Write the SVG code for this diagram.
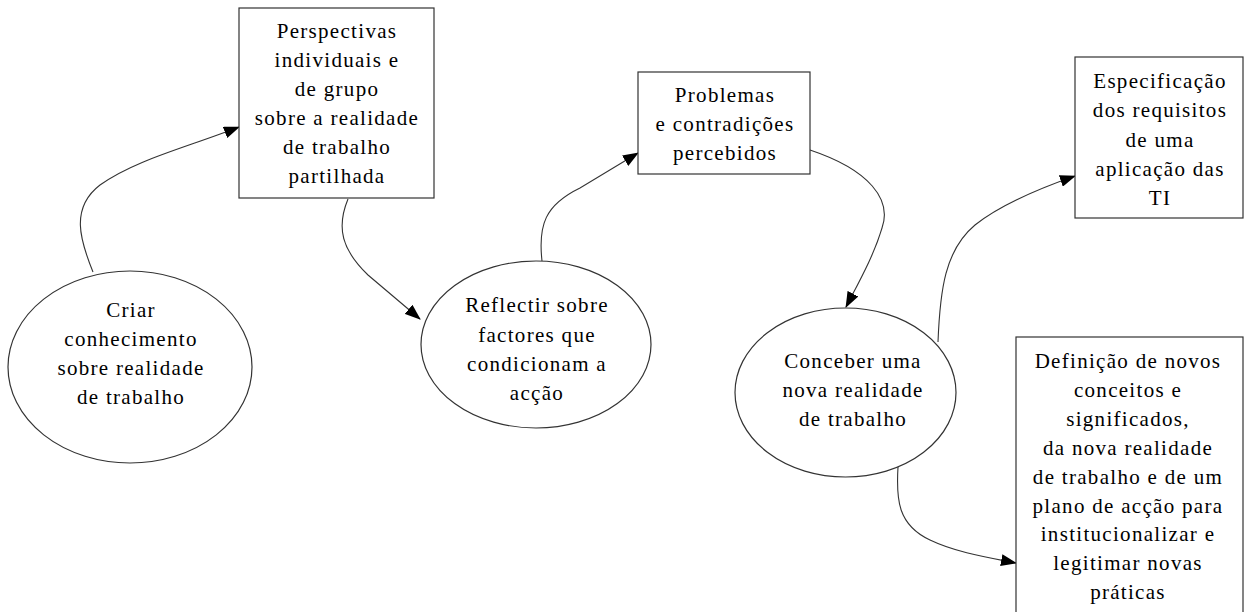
<svg xmlns="http://www.w3.org/2000/svg" width="1245" height="612" viewBox="0 0 1245 612">
<style>
  .shape { fill: #ffffff; stroke: #333333; stroke-width: 1.2; }
  .lbl { font-family: "Liberation Serif", "Times New Roman", serif; font-size: 21px; letter-spacing: 1.3px; fill: #000000; text-anchor: middle; }
  .conn { fill: none; stroke: #333333; stroke-width: 1.1; marker-end: url(#arrow); }
</style>
<defs>
  <marker id="arrow" viewBox="0 0 16 12" refX="15" refY="6" markerWidth="16" markerHeight="12" markerUnits="userSpaceOnUse" orient="auto">
    <path d="M0,0 L16,6 L0,12 Z" fill="#000000"/>
  </marker>
</defs>
<rect width="1245" height="612" fill="#ffffff"/>

<g id="connectors">
  <path class="conn" d="M93,272 C80,240 70,208 100,185 C135,160 185,148 239,127"/>
  <path class="conn" d="M348,199 C336,228 342,250 368,275 L420,319"/>
  <path class="conn" d="M542,261 C538,225 545,205 580,188 L638,153"/>
  <path class="conn" d="M810,150 C870,170 892,200 882,228 C874,255 860,280 846,307"/>
  <path class="conn" d="M938,342 C940,290 945,250 975,225 C1000,205 1035,190 1075,176"/>
  <path class="conn" d="M898,467 C896,500 898,525 930,540 C955,552 985,557 1016,563"/>
</g>

<g id="node-criar">
  <ellipse class="shape" cx="130" cy="367" rx="122" ry="96"/>
  <text class="lbl" x="131" y="317">Criar</text>
  <text class="lbl" x="131" y="346">conhecimento</text>
  <text class="lbl" x="131" y="375">sobre realidade</text>
  <text class="lbl" x="131" y="404">de trabalho</text>
</g>

<g id="node-perspectivas">
  <rect class="shape" x="239" y="8" width="195" height="190"/>
  <text class="lbl" x="337" y="38">Perspectivas</text>
  <text class="lbl" x="337" y="67">individuais e</text>
  <text class="lbl" x="337" y="96">de grupo</text>
  <text class="lbl" x="337" y="125">sobre a realidade</text>
  <text class="lbl" x="337" y="154">de trabalho</text>
  <text class="lbl" x="337" y="183">partilhada</text>
</g>

<g id="node-reflectir">
  <ellipse class="shape" cx="536" cy="344.5" rx="115" ry="83.5"/>
  <text class="lbl" x="537" y="312">Reflectir sobre</text>
  <text class="lbl" x="537" y="342">factores que</text>
  <text class="lbl" x="537" y="371">condicionam a</text>
  <text class="lbl" x="537" y="400">acção</text>
</g>

<g id="node-problemas">
  <rect class="shape" x="638" y="72" width="172" height="102"/>
  <text class="lbl" x="725" y="102">Problemas</text>
  <text class="lbl" x="725" y="131">e contradições</text>
  <text class="lbl" x="725" y="160">percebidos</text>
</g>

<g id="node-conceber">
  <ellipse class="shape" cx="845.5" cy="392.5" rx="110.5" ry="84.5"/>
  <text class="lbl" x="853" y="368">Conceber uma</text>
  <text class="lbl" x="853" y="397">nova realidade</text>
  <text class="lbl" x="853" y="426">de trabalho</text>
</g>

<g id="node-especificacao">
  <rect class="shape" x="1075" y="57" width="168" height="161"/>
  <text class="lbl" x="1160" y="88">Especificação</text>
  <text class="lbl" x="1160" y="117">dos requisitos</text>
  <text class="lbl" x="1160" y="147">de uma</text>
  <text class="lbl" x="1160" y="176">aplicação das</text>
  <text class="lbl" x="1160" y="205">TI</text>
</g>

<g id="node-definicao">
  <rect class="shape" x="1016" y="337" width="227" height="290"/>
  <text class="lbl" x="1128" y="368">Definição de novos</text>
  <text class="lbl" x="1128" y="397">conceitos e</text>
  <text class="lbl" x="1128" y="426">significados,</text>
  <text class="lbl" x="1128" y="455">da nova realidade</text>
  <text class="lbl" x="1128" y="484">de trabalho e de um</text>
  <text class="lbl" x="1128" y="513">plano de acção para</text>
  <text class="lbl" x="1128" y="541">institucionalizar e</text>
  <text class="lbl" x="1128" y="570">legitimar novas</text>
  <text class="lbl" x="1128" y="599">práticas</text>
</g>
</svg>
